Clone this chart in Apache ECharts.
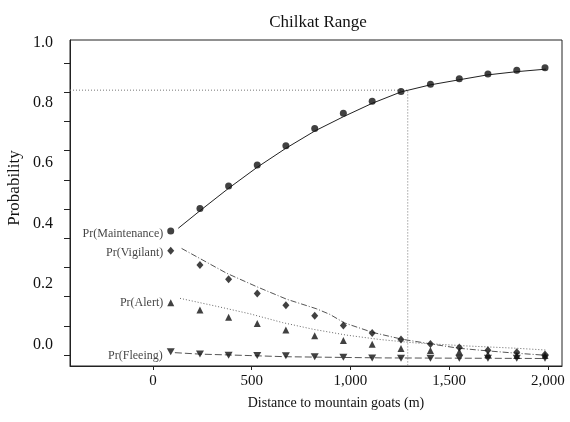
<!DOCTYPE html>
<html>
<head>
<meta charset="utf-8">
<script src="https://cdn.jsdelivr.net/npm/echarts@6/dist/echarts.min.js"></script>
<style>html,body{margin:0;padding:0;background:#fff}#c{width:570px;height:422px}</style>
</head>
<body>
<div id="c"></div>
<script>
// ---- observed points ----
const distances = [90, 238, 383, 528, 673, 819, 964, 1110, 1256, 1405, 1551, 1696, 1842, 1985];
const prMaintenance = [0.425, 0.502, 0.579, 0.651, 0.717, 0.776, 0.828, 0.869, 0.902, 0.927, 0.946, 0.962, 0.975, 0.984];
const prVigilant = [0.357, 0.308, 0.259, 0.211, 0.170, 0.134, 0.101, 0.075, 0.053, 0.038, 0.026, 0.016, 0.009, 0.002];
const prAlert = [0.179, 0.154, 0.129, 0.108, 0.086, 0.066, 0.050, 0.037, 0.022, 0.015, 0.011, 0.002, -0.002, -0.002];
const prFleeing = [0.011, 0.003, -0.001, -0.002, -0.003, -0.006, -0.008, -0.010, -0.011, -0.011, -0.011, -0.011, -0.011, -0.011];

// ---- fitted curves ----
const fitMaintX = [128, 238, 383, 528, 673, 819, 964, 1110, 1256, 1403, 1546, 1691, 1836, 1990];
const fitMaint = [0.434, 0.494, 0.571, 0.643, 0.708, 0.767, 0.816, 0.862, 0.901, 0.925, 0.942, 0.959, 0.970, 0.979];
const fitVigX = [145, 373, 525, 677, 829, 896, 969, 1114, 1261, 1406, 1549, 1696, 1842, 1990];
const fitVig = [0.365, 0.280, 0.234, 0.191, 0.158, 0.139, 0.110, 0.077, 0.054, 0.038, 0.023, 0.014, 0.006, -0.001];
const fitAlertX = [137, 314, 491, 656, 812, 981, 1149, 1318, 1588, 1842, 1990];
const fitAlert = [0.194, 0.168, 0.141, 0.111, 0.088, 0.068, 0.053, 0.042, 0.031, 0.023, 0.017];
const fitFleeX = [111, 238, 491, 677, 1165, 1990];
const fitFlee = [0.008, 0.003, -0.002, -0.006, -0.010, -0.012];

// ---- threshold guide ----
const thresholdDistance = 1290;
const thresholdProb = 0.907;

// ---- ticks / labels ----
const xTicks = [0, 500, 1000, 1500, 2000];
const yTicks = [0, 0.1, 0.2, 0.3, 0.4, 0.5, 0.6, 0.7, 0.8, 0.9, 1.0];
const yLabels = [0, 0.2, 0.4, 0.6, 0.8, 1.0];
const seriesNames = ['Pr(Maintenance)', 'Pr(Vigilant)', 'Pr(Alert)', 'Pr(Fleeing)'];

const X_MIN = -420, X_MAX = 2071;
const Y_MIN = -0.0377, Y_MAX = 1.0788;
const FONT = 'Liberation Serif';
const INK = '#111';

const zip = (xs, ys) => xs.map((x, i) => [x, ys[i]]);
const withLabel = (xs, ys, name, offset) => xs.map((x, i) => i === 0 ? {
  value: [x, ys[i]],
  label: { show: true, formatter: name, position: 'left', distance: 4, offset: offset,
           fontFamily: FONT, fontSize: 12, color: INK }
} : [x, ys[i]]);
const fmt = v => String(v).replace(/\B(?=(\d{3})+(?!\d))/g, ',');

const fitLine = (xs, ys, type, color) => ({
  type: 'line', data: zip(xs, ys), showSymbol: false, smooth: false,
  lineStyle: { color: color, width: 1, type: type }, z: 2, silent: true
});
const pts = (ys, name, symbol, size, offset) => ({
  type: 'scatter', name: name, data: withLabel(distances, ys, name, offset),
  symbol: symbol, symbolSize: size, itemStyle: { color: INK }, z: 5
});

const chart = echarts.init(document.getElementById('c'));
chart.setOption({
  animation: false,
  backgroundColor: '#fff',
  title: { text: 'Chilkat Range', left: 313, top: 9, textAlign: 'center',
           textStyle: { fontFamily: FONT, fontSize: 17, fontWeight: 'normal', color: INK } },
  grid: { left: 70, right: 8, top: 40, bottom: 56, show: true, borderColor: '#222', borderWidth: 1 },
  xAxis: {
    type: 'value', min: X_MIN, max: X_MAX,
    axisLine: { show: true, onZero: false, lineStyle: { color: '#222' } },
    axisTick: { show: true, customValues: xTicks, length: 4, lineStyle: { color: '#222' } },
    axisLabel: { customValues: xTicks, formatter: fmt, margin: 8,
                 fontFamily: FONT, fontSize: 15, color: INK },
    splitLine: { show: false }
  },
  yAxis: [{
    type: 'value', min: Y_MIN, max: Y_MAX,
    axisLine: { show: true, onZero: false, lineStyle: { color: '#222' } },
    axisTick: { show: true, customValues: yTicks, length: 6, lineStyle: { color: '#222' } },
    axisLabel: { show: false },
    splitLine: { show: false }
  }, {
    type: 'value', position: 'left', min: -0.0715, max: 1.0083,
    axisLine: { show: false, onZero: false }, axisTick: { show: false }, splitLine: { show: false },
    axisLabel: { customValues: yLabels, formatter: v => v.toFixed(1), margin: 17,
                 fontFamily: FONT, fontSize: 16, color: INK }
  }],
  graphic: [
    { type: 'text', x: 15, y: 188, rotation: Math.PI / 2,
      style: { text: 'Probability', fontFamily: FONT, fontSize: 17, fill: INK,
               align: 'center', verticalAlign: 'middle' } },
    { type: 'text', x: 336, y: 403,
      style: { text: 'Distance to mountain goats (m)', fontFamily: FONT, fontSize: 14, fill: INK,
               align: 'center', verticalAlign: 'middle' } }
  ],
  series: [
    { type: 'line', data: [[X_MIN, thresholdProb], [thresholdDistance, thresholdProb], [thresholdDistance, Y_MIN]],
      showSymbol: false, lineStyle: { color: '#777', width: 1, type: [1, 2] }, z: 1, silent: true },
    fitLine(fitMaintX, fitMaint, 'solid', '#222'),
    fitLine(fitVigX, fitVig, [6, 2, 1, 2], '#555'),
    fitLine(fitAlertX, fitAlert, [1, 2], '#666'),
    fitLine(fitFleeX, fitFlee, [7, 3], '#555'),
    pts(prMaintenance, seriesNames[0], 'circle', 7, [0, 3]),
    pts(prVigilant, seriesNames[1], 'diamond', [7, 8], [0, 2]),
    pts(prAlert, seriesNames[2], 'triangle', 7, [0, 0]),
    pts(prFleeing, seriesNames[3], 'path://M0,0 L10,0 L5,8 Z', [8, 7], [0, 4])
  ]
});
</script>
</body>
</html>
